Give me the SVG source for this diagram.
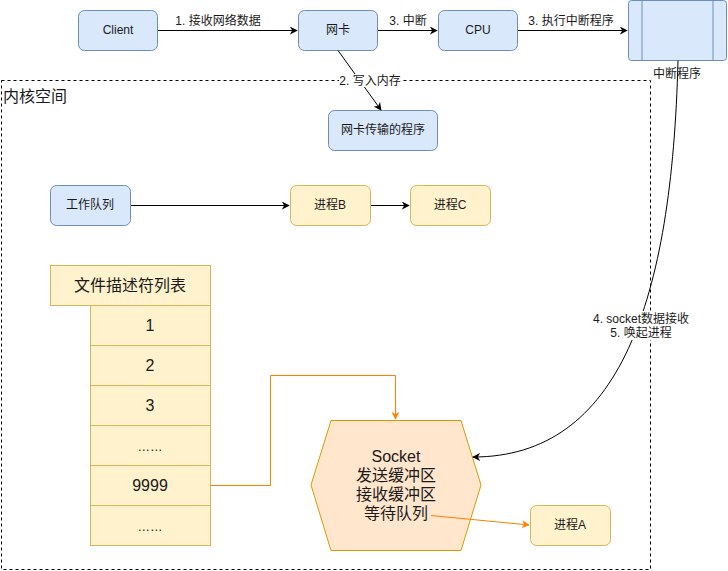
<svg xmlns="http://www.w3.org/2000/svg" width="728" height="571" viewBox="0 0 728 571">
<style>
text{font-family:"Liberation Sans","Noto Sans CJK SC",sans-serif;fill:#1a1a1a;text-anchor:middle}
.s12{font-size:12px}
.s16{font-size:16px}
.blue{fill:#dae8fc;stroke:#6c8ebf;stroke-width:1}
.yel{fill:#fff2cc;stroke:#d6b656;stroke-width:1}
.edge{fill:none;stroke:#000;stroke-width:1}
.oedge{fill:none;stroke:#ff8000;stroke-width:1}
.lbg{fill:#fff}
</style>
<defs>
<marker id="ah" viewBox="0 0 10 10" refX="9" refY="5" markerWidth="8" markerHeight="8" markerUnits="userSpaceOnUse" orient="auto">
<path d="M0,0 L10,5 L0,10 L3,5 Z" fill="#000"/>
</marker>
<marker id="aho" viewBox="0 0 10 10" refX="9" refY="5" markerWidth="8" markerHeight="8" markerUnits="userSpaceOnUse" orient="auto">
<path d="M0,0 L10,5 L0,10 L3,5 Z" fill="#ff8000"/>
</marker>
</defs>
<rect width="728" height="571" fill="#fff"/>

<g id="kernel">
<rect x="1.5" y="80.5" width="649" height="489" fill="none" stroke="#000" stroke-dasharray="3,3"/>
<text x="3" y="102" class="s16" style="text-anchor:start">内核空间</text>
</g>

<g id="client"><rect class="blue" x="78.5" y="10.5" width="79" height="40" rx="6"/><text class="s12" x="118" y="34">Client</text></g>
<g id="nic"><rect class="blue" x="298.5" y="10.5" width="79" height="40" rx="6"/><text class="s12" x="338" y="34">网卡</text></g>
<g id="cpu"><rect class="blue" x="438.5" y="10.5" width="79" height="40" rx="6"/><text class="s12" x="478" y="34">CPU</text></g>
<g id="isr">
<rect class="blue" x="628.5" y="0.5" width="98" height="60" rx="3"/>
<line x1="642" y1="0.5" x2="642" y2="60.5" stroke="#6c8ebf"/>
<line x1="713" y1="0.5" x2="713" y2="60.5" stroke="#6c8ebf"/>
</g>
<g id="nicprog"><rect class="blue" x="328.5" y="110.5" width="109" height="40" rx="6"/><text class="s12" x="383" y="134">网卡传输的程序</text></g>
<g id="workq"><rect class="blue" x="50.5" y="185.5" width="80" height="40" rx="6"/><text class="s12" x="90" y="209">工作队列</text></g>
<g id="procB"><rect class="yel" x="290.5" y="185.5" width="80" height="40" rx="6"/><text class="s12" x="330" y="209">进程B</text></g>
<g id="procC"><rect class="yel" x="410.5" y="185.5" width="80" height="40" rx="6"/><text class="s12" x="450" y="209">进程C</text></g>
<g id="procA"><rect class="yel" x="530.5" y="505.5" width="80" height="40" rx="6"/><text class="s12" x="570" y="529">进程A</text></g>

<g id="fdtable">
<rect class="yel" x="50.5" y="265.5" width="160" height="40"/><text class="s16" x="130" y="291">文件描述符列表</text>
<rect class="yel" x="90.5" y="305.5" width="120" height="40"/><text class="s16" x="150" y="331">1</text>
<rect class="yel" x="90.5" y="345.5" width="120" height="40"/><text class="s16" x="150" y="371">2</text>
<rect class="yel" x="90.5" y="385.5" width="120" height="40"/><text class="s16" x="150" y="411">3</text>
<rect class="yel" x="90.5" y="425.5" width="120" height="40"/><text x="150" y="451" style="font-size:12.5px">……</text>
<rect class="yel" x="90.5" y="465.5" width="120" height="40"/><text class="s16" x="150" y="491">9999</text>
<rect class="yel" x="90.5" y="505.5" width="120" height="40"/><text x="150" y="531" style="font-size:12.5px">……</text>
</g>

<g id="socket">
<polygon points="331,420.5 461,420.5 481,485 461,550.5 331,550.5 311,485" fill="#ffe6cc" stroke="#d79b00"/>
<text class="s16" x="396" y="462">Socket</text>
<text class="s16" x="396" y="481">发送缓冲区</text>
<text class="s16" x="396" y="500">接收缓冲区</text>
<text class="s16" x="396" y="519">等待队列</text>
</g>

<g id="connectors">
<path class="edge" d="M158,30.5 H297" marker-end="url(#ah)"/>
<text class="s12" x="218" y="25">1. 接收网络数据</text>
<path class="edge" d="M378,30.5 H437" marker-end="url(#ah)"/>
<text class="s12" x="408" y="25">3. 中断</text>
<path class="edge" d="M518,30.5 H627" marker-end="url(#ah)"/>
<text class="s12" x="571" y="25">3. 执行中断程序</text>
<path class="edge" d="M338,50.5 L381,110" marker-end="url(#ah)"/>
<rect class="lbg" x="339" y="74" width="62" height="13"/>
<text class="s12" x="370" y="85">2. 写入内存</text>
<path class="edge" d="M131,205.5 H289" marker-end="url(#ah)"/>
<path class="edge" d="M371,205.5 H409" marker-end="url(#ah)"/>
<path class="edge" d="M678,60.5 C672,300 620,457 473,457" marker-end="url(#ah)"/>
<text class="s12" x="677" y="78">中断程序</text>
<rect class="lbg" x="592" y="311" width="99" height="29"/>
<text class="s12" x="641" y="323">4. socket数据接收</text>
<text class="s12" x="641" y="337">5. 唤起进程</text>
<path class="oedge" d="M210.5,485.5 H270.5 V375.5 H395.5 V419" marker-end="url(#aho)"/>
<path class="oedge" d="M431,515.5 L529,525" marker-end="url(#aho)"/>
</g>
</svg>
